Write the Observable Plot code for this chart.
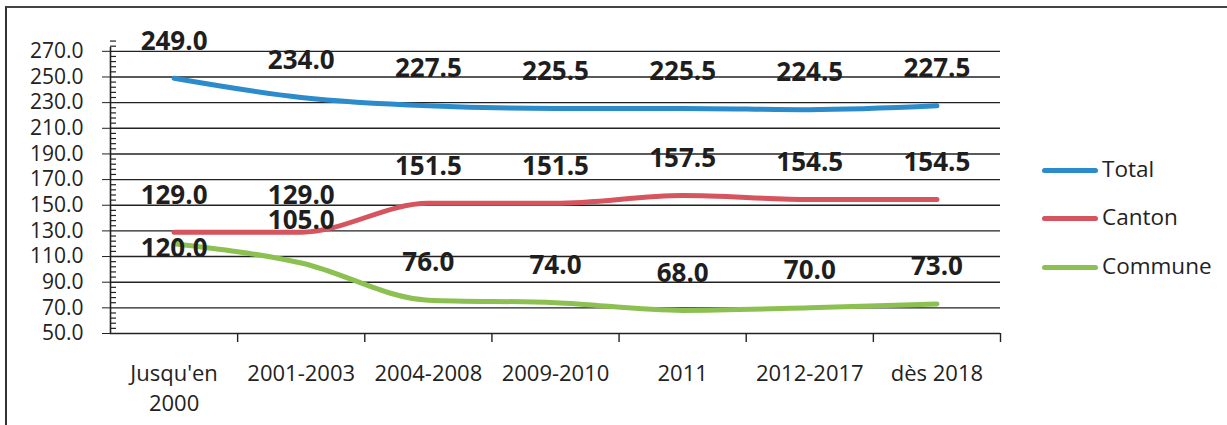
<!DOCTYPE html>
<html>
<head>
<meta charset="utf-8">
<script src="https://cdn.jsdelivr.net/npm/d3@7"></script>
<script src="https://cdn.jsdelivr.net/npm/@observablehq/plot@0.6"></script>
<style>
  html, body { margin: 0; padding: 0; background: #fff; }
  #wrap { position: relative; width: 1227px; height: 425px; overflow: hidden; font-family: "Open Sans", sans-serif; color: #222; }
  #frame { position: absolute; left: 5px; top: 6px; right: -10px; bottom: -10px; border-top: 2px solid #444; border-left: 2px solid #333; pointer-events: none; }
  .leg { position: absolute; display: flex; align-items: center; font-size: 22.5px; color: #222; height: 30px; }
  .leg .sw { width: 56px; height: 5px; border-radius: 3px; margin-right: 4px; }
  svg { position: absolute; left: 0; top: 0; }
</style>
</head>
<body>
<div id="wrap"><div id="frame"></div></div>
<script>
const categories = ["Jusqu'en\n2000", "2001-2003", "2004-2008", "2009-2010", "2011", "2012-2017", "dès 2018"];
const seriesNames = ["Total", "Canton", "Commune"];
const total   = [249.0, 234.0, 227.5, 225.5, 225.5, 224.5, 227.5];
const canton  = [129.0, 129.0, 151.5, 151.5, 157.5, 154.5, 154.5];
const commune = [120.0, 105.0, 76.0, 74.0, 68.0, 70.0, 73.0];
const yTicks = [50, 70, 90, 110, 130, 150, 170, 190, 210, 230, 250, 270];
const colors = ["#2B8BCB", "#D6545E", "#8CC152"];

const seriesValues = [total, canton, commune];
const rows = [];
seriesNames.forEach((s, k) => {
  seriesValues[k].forEach((v, i) => rows.push({series: s, i, cat: categories[i], value: v}));
});
const colorOf = Object.fromEntries(seriesNames.map((s, k) => [s, colors[k]]));

// label offsets (the reference moved two Commune labels by hand)
const specialDy = {"Commune|0": 5, "Commune|1": -42};
const labelRows = rows.map(r => ({...r, dy: specialDy[r.series + "|" + r.i] ?? -37}));
const dyGroups = Array.from(new Set(labelRows.map(r => r.dy)));

const minorTicks = d3.range(54, 281, 4).filter(v => !yTicks.includes(v));
const boundaries = d3.range(0.5, categories.length, 1);

const W = 1227, H = 425;
const chart = Plot.plot({
  width: W,
  height: H,
  marginLeft: 110,
  marginRight: 227,
  marginTop: 38,
  marginBottom: 92,
  style: {fontFamily: "Open Sans", fontSize: "21px", color: "#222", background: "transparent", overflow: "visible"},
  x: {type: "linear", domain: [-0.5, categories.length - 0.5], axis: null},
  y: {domain: [50, 280], ticks: yTicks, tickFormat: d => d.toFixed(1), tickSize: 8, tickPadding: 19, label: null},
  marks: [
    Plot.ruleY(yTicks, {stroke: "#222", strokeWidth: 1.4}),
    Plot.ruleY(minorTicks, {y: d => d, x1: -0.5, x2: -0.5, insetRight: -6, stroke: "#222", strokeWidth: 1.2}),
    Plot.ruleX([-0.5], {y1: 50, y2: 280, insetBottom: -9, stroke: "#222", strokeWidth: 1.6}),
    Plot.ruleX(boundaries, {x: d => d, y1: 50, y2: 50, insetBottom: -9, stroke: "#222", strokeWidth: 1.4}),
    ...seriesNames.map(s => Plot.line(rows.filter(r => r.series === s), {
      x: "i", y: "value", stroke: colorOf[s], strokeWidth: 5, curve: "monotone-x", strokeLinecap: "round"
    })),
    ...dyGroups.map(dy => Plot.text(labelRows.filter(r => r.dy === dy), {
      x: "i", y: "value", text: d => d.value.toFixed(1), dy,
      fontSize: 26, fontWeight: "bold", fill: "#1e1e1e"
    })),
    Plot.text(categories, {
      x: (d, i) => i, frameAnchor: "bottom", text: d => d, dy: 26, lineAnchor: "top",
      fontSize: 22, lineHeight: 1.38, fill: "#222"
    })
  ]
});
const wrap = document.getElementById("wrap");
wrap.appendChild(chart);

const legendY = [170, 218, 267];
seriesNames.forEach((s, k) => {
  const el = document.createElement("div");
  el.className = "leg";
  el.style.left = "1042px";
  el.style.top = (legendY[k] - 15) + "px";
  el.innerHTML = `<span class="sw" style="background:${colors[k]}"></span><span style="margin-top:-3px">${s}</span>`;
  wrap.appendChild(el);
});
</script>
</body>
</html>
